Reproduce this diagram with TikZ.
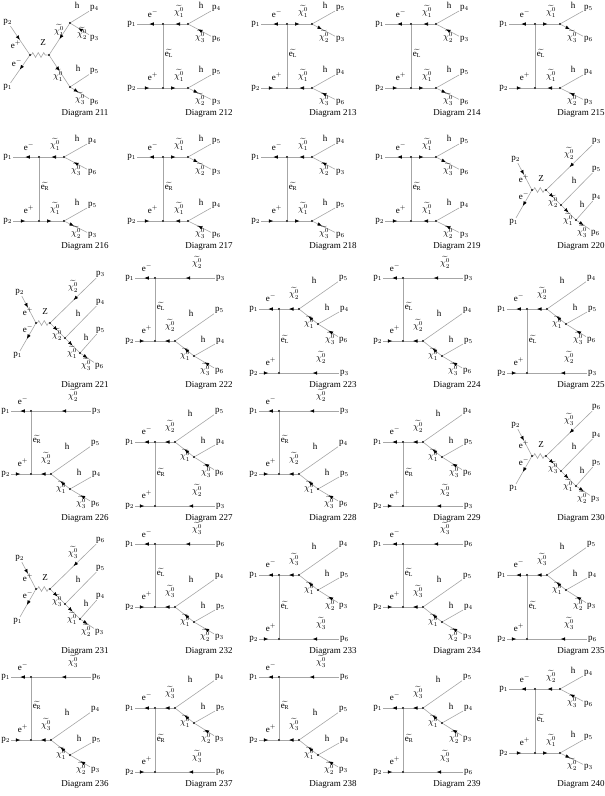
\documentclass[tikz,border=0pt]{standalone}
\usepackage{fontspec}
\setmainfont{Liberation Serif}
\usetikzlibrary{arrows.meta,decorations.markings,decorations.pathmorphing}
\tikzset{fline/.style={draw=gray!70, line width=0.6pt},
  fer/.style={fline, postaction={decorate}, decoration={markings, mark=at position #1 with {\arrow{Latex[length=4.5pt,width=3.6pt,color=black]}}}},
  fer/.default=0.5,
  zig it/.style={fline, decorate, decoration={zigzag, segment length=5.5pt, amplitude=2.4pt}},
  vtx/.style={circle, fill=black, inner sep=0pt, minimum size=2.4pt},
  lab/.style={inner sep=0pt, font=\fontsize{9}{10}\selectfont},
  ext/.style={inner sep=0.8pt, font=\fontsize{9}{10}\selectfont},
  captext/.style={inner sep=0pt, font=\fontsize{9}{11}\selectfont}}
\newcommand{\nt}[1]{$\widetilde{\chi_{#1}^{0}}$}
\newcommand{\sel}[1]{$\widetilde{\mathrm{e}_{\mathrm{#1}}}$}
\newcommand{\pp}[1]{p$_{#1}$}
\newcommand{\ee}[1]{e$^{#1}$}
\newcommand{\outp}[1]{\ifnum#1=2 3\else 6\fi}
\newcommand{\capy}{113}
\newcommand{\diagB}[8]{%
  \node[vtx] (vt#1) at (42,24) {};
  \node[vtx] (vb#1) at (42,88) {};
  \node[vtx] (dt#1) at (67,24) {};
  \node[vtx] (db#1) at (67,88) {};
  \node[ext,anchor=east] (pa#1) at (16,24) {\pp1};
  \node[ext,anchor=east] (pb#1) at (16,88) {\pp2};
  \node[ext,anchor=west] (ht#1) at (90,8) {\pp{#4}};
  \node[ext,anchor=west] (ct#1) at (90,39) {\pp{\outp{#5}}};
  \node[ext,anchor=west] (hb#1) at (90,72) {\pp{#6}};
  \node[ext,anchor=west] (cb#1) at (90,102) {\pp{\outp{#7}}};
  \draw[fer] (vt#1) -- (pa#1);
  \draw[fer] (pb#1) -- (vb#1);
  \draw[fline] (vt#1) -- (vb#1);
  \draw[fline] (dt#1) -- (ht#1);
  \draw[fline] (db#1) -- (hb#1);
  \ifnum#8=0
    \draw[fer] (dt#1) -- (vt#1);
    \draw[fer=.6] (ct#1) -- (dt#1);
    \draw[fer] (vb#1) -- (db#1);
    \draw[fer=.4] (db#1) -- (cb#1);
  \else
    \draw[fer] (vt#1) -- (dt#1);
    \draw[fer=.4] (dt#1) -- (ct#1);
    \draw[fer] (db#1) -- (vb#1);
    \draw[fer=.6] (cb#1) -- (db#1);
  \fi
  \node[lab] (em#1) at (32,14) {\ee-};
  \node[lab] (xt#1) at (58,11) {\nt{#3}};
  \node[lab] (lht#1) at (80,5) {h};
  \node[lab] (lct#1) at (79,36) {\nt{#5}};
  \node[lab] (se#1) at (48,53) {\sel{#2}};
  \node[lab] (ep#1) at (32,77) {\ee+};
  \node[lab] (xb#1) at (58,75) {\nt1};
  \node[lab] (lhb#1) at (80,69) {h};
  \node[lab] (lcb#1) at (79,99) {\nt{#7}};
  \node[captext] (cap#1) at (88,\capy) {Diagram #1};
}
\newcommand{\diagC}[5]{%
  \node[vtx] (va#1) at (39,57) {};
  \node[vtx] (vz#1) at (53,57) {};
  \node[vtx] (ca#1) at (68,72) {};
  \node[vtx] (cb#1) at (83,87) {};
  \node[ext,anchor=east] (pb#1) at (28,26) {\pp2};
  \node[ext,anchor=east] (pa#1) at (26,89) {\pp1};
  \node[ext,anchor=west] (ps#1) at (98,8) {\pp{\outp{#2}}};
  \node[ext,anchor=west] (ha#1) at (98,36) {\pp{#3}};
  \node[ext,anchor=west] (hb#1) at (98,64) {\pp{#4}};
  \node[ext,anchor=west] (pf#1) at (97,100) {\pp{\outp{#5}}};
  \draw[fer=.45] (pb#1) -- (va#1);
  \draw[fer=.55] (va#1) -- (pa#1);
  \draw[zig it] (va#1) -- (vz#1);
  \draw[fer] (ps#1) -- (vz#1);
  \draw[fer] (vz#1) -- (ca#1);
  \draw[fline] (ca#1) -- (ha#1);
  \draw[fer] (ca#1) -- (cb#1);
  \draw[fline] (cb#1) -- (hb#1);
  \draw[fer] (cb#1) -- (pf#1);
  \node[lab] (ep#1) at (31,46) {\ee+};
  \node[lab] (em#1) at (31,63) {\ee-};
  \node[lab] (lz#1) at (48,46) {Z};
  \node[lab] (xs#1) at (76,20) {\nt{#2}};
  \node[lab] (xa#1) at (60,68) {\nt{#2}};
  \node[lab] (lha#1) at (81,47) {h};
  \node[lab] (xb#1) at (75,86) {\nt1};
  \node[lab] (lhb#1) at (89,71) {h};
  \node[lab] (xf#1) at (89,98) {\nt{#5}};
  \node[captext] (cap#1) at (88,\capy) {Diagram #1};
}
\newcommand{\diagD}[6]{%
  \node[vtx] (vt#1) at (34,12) {};
  \node[vtx] (vb#1) at (34,75) {};
  \node[vtx] (ca#1) at (54,75) {};
  \node[vtx] (cb#1) at (73,90) {};
  \node[ext,anchor=east] (pa#1) at (14,12) {\pp1};
  \node[ext,anchor=east] (pb#1) at (14,75) {\pp2};
  \node[ext,anchor=west] (ps#1) at (94,12) {\pp{\outp{#3}}};
  \node[ext,anchor=west] (ha#1) at (93,44) {\pp{#4}};
  \node[ext,anchor=west] (hb#1) at (94,75) {\pp{#5}};
  \node[ext,anchor=west] (pf#1) at (93,105) {\pp{\outp{#6}}};
  \draw[fer] (vt#1) -- (pa#1);
  \draw[fer] (ps#1) -- (vt#1);
  \draw[fline] (vt#1) -- (vb#1);
  \draw[fer] (pb#1) -- (vb#1);
  \draw[fer] (ca#1) -- (vb#1);
  \draw[fline] (ca#1) -- (ha#1);
  \draw[fer] (cb#1) -- (ca#1);
  \draw[fline] (cb#1) -- (hb#1);
  \draw[fer] (pf#1) -- (cb#1);
  \node[lab] (em#1) at (26,2) {\ee-};
  \node[lab] (xs#1) at (76,-4) {\nt{#3}};
  \node[lab] (se#1) at (40,40) {\sel{#2}};
  \node[lab] (ep#1) at (26,64) {\ee+};
  \node[lab] (xa#1) at (49,59) {\nt{#3}};
  \node[lab] (lha#1) at (70,47) {h};
  \node[lab] (xb#1) at (64,88) {\nt1};
  \node[lab] (lhb#1) at (82,73) {h};
  \node[lab] (xf#1) at (84,103) {\nt{#6}};
  \node[captext] (cap#1) at (88,\capy) {Diagram #1};
}
\newcommand{\diagE}[6]{%
  \node[vtx] (vt#1) at (34,43) {};
  \node[vtx] (vb#1) at (34,107) {};
  \node[vtx] (ca#1) at (54,43) {};
  \node[vtx] (cb#1) at (73,58) {};
  \node[ext,anchor=east] (pa#1) at (14,43) {\pp1};
  \node[ext,anchor=east] (pb#1) at (14,107) {\pp2};
  \node[ext,anchor=west] (ps#1) at (94,107) {\pp{\outp{#3}}};
  \node[ext,anchor=west] (ha#1) at (93,12) {\pp{#4}};
  \node[ext,anchor=west] (hb#1) at (94,43) {\pp{#5}};
  \node[ext,anchor=west] (pf#1) at (93,74) {\pp{\outp{#6}}};
  \draw[fer] (vt#1) -- (pa#1);
  \draw[fer] (ca#1) -- (vt#1);
  \draw[fline] (vt#1) -- (vb#1);
  \draw[fer] (pb#1) -- (vb#1);
  \draw[fer=.45] (ps#1) -- (vb#1);
  \draw[fline] (ca#1) -- (ha#1);
  \draw[fer] (cb#1) -- (ca#1);
  \draw[fline] (cb#1) -- (hb#1);
  \draw[fer] (pf#1) -- (cb#1);
  \node[lab] (em#1) at (26,32) {\ee-};
  \node[lab] (xa#1) at (49,27) {\nt{#3}};
  \node[lab] (lha#1) at (69,14) {h};
  \node[lab] (xb#1) at (64,56) {\nt1};
  \node[lab] (lhb#1) at (82,41) {h};
  \node[lab] (xf#1) at (85,72) {\nt{#6}};
  \node[lab] (se#1) at (40,73) {\sel{#2}};
  \node[lab] (ep#1) at (26,96) {\ee+};
  \node[lab] (xs#1) at (76,91) {\nt{#3}};
  \node[captext] (cap#1) at (88,\capy) {Diagram #1};
}
\begin{document}
\begin{tikzpicture}[x=1pt,y=-1pt]
\useasboundingbox (0,0) rectangle (605,796);
\begin{scope}[shift={(-3,0)}]
  \node[vtx] (va211) at (33,55) {};
  \node[vtx] (vz211) at (52,55) {};
  \node[vtx] (dt211) at (73,23) {};
  \node[vtx] (db211) at (73,87) {};
  \node[ext,anchor=east] (pb211) at (16,22) {\pp2};
  \node[ext,anchor=east] (pa211) at (16,87) {\pp1};
  \node[ext,anchor=west] (ht211) at (92,8) {\pp4};
  \node[ext,anchor=west] (ct211) at (92,38) {\pp3};
  \node[ext,anchor=west] (hb211) at (92,71) {\pp5};
  \node[ext,anchor=west] (cb211) at (92,102) {\pp6};
  \draw[fer] (pb211) -- (va211);
  \draw[fer] (va211) -- (pa211);
  \draw[zig it] (va211) -- (vz211);
  \draw[fer] (dt211) -- (vz211);
  \draw[fer] (vz211) -- (db211);
  \draw[fline] (dt211) -- (ht211);
  \draw[fer=.6] (ct211) -- (dt211);
  \draw[fline] (db211) -- (hb211);
  \draw[fer=.4] (db211) -- (cb211);
  \node[lab] (ep211) at (19,45) {\ee+};
  \node[lab] (em211) at (20,63) {\ee-};
  \node[lab] (lz211) at (46,43) {Z};
  \node[lab] (xt211) at (62,30) {\nt1};
  \node[lab] (xb211) at (61,75) {\nt1};
  \node[lab] (lht211) at (80,5) {h};
  \node[lab] (lhb211) at (81,68) {h};
  \node[lab] (lct211) at (85,33) {\nt2};
  \node[lab] (lcb211) at (83,98) {\nt3};
  \node[captext] (cap211) at (88,\capy) {Diagram 211};
\end{scope}
\begin{scope}[shift={(121,0)}]\diagB{212}{L}{1}{4}{3}{5}{2}{0}\end{scope}
\begin{scope}[shift={(245,0)}]\diagB{213}{L}{1}{5}{2}{4}{3}{1}\end{scope}
\begin{scope}[shift={(369,0)}]\diagB{214}{L}{1}{4}{2}{5}{3}{0}\end{scope}
\begin{scope}[shift={(493,0)}]\diagB{215}{L}{1}{5}{3}{4}{2}{1}\end{scope}
\begin{scope}[shift={(-3,133)}]\diagB{216}{R}{1}{4}{3}{5}{2}{0}\end{scope}
\begin{scope}[shift={(121,133)}]\diagB{217}{R}{1}{5}{2}{4}{3}{1}\end{scope}
\begin{scope}[shift={(245,133)}]\diagB{218}{R}{1}{4}{2}{5}{3}{0}\end{scope}
\begin{scope}[shift={(369,133)}]\diagB{219}{R}{1}{5}{3}{4}{2}{1}\end{scope}
\begin{scope}[shift={(493,133)}]\diagC{220}{2}{5}{4}{3}\end{scope}
\renewcommand{\capy}{119}
\begin{scope}[shift={(-3,266)}]\diagC{221}{2}{4}{5}{3}\end{scope}
\begin{scope}[shift={(121,266)}]\diagD{222}{L}{2}{5}{4}{3}\end{scope}
\begin{scope}[shift={(245,266)}]\diagE{223}{L}{2}{5}{4}{3}\end{scope}
\begin{scope}[shift={(369,266)}]\diagD{224}{L}{2}{4}{5}{3}\end{scope}
\begin{scope}[shift={(493,266)}]\diagE{225}{L}{2}{4}{5}{3}\end{scope}
\begin{scope}[shift={(-3,399)}]\diagD{226}{R}{2}{5}{4}{3}\end{scope}
\begin{scope}[shift={(121,399)}]\diagE{227}{R}{2}{5}{4}{3}\end{scope}
\begin{scope}[shift={(245,399)}]\diagD{228}{R}{2}{4}{5}{3}\end{scope}
\begin{scope}[shift={(369,399)}]\diagE{229}{R}{2}{4}{5}{3}\end{scope}
\begin{scope}[shift={(493,399)}]\diagC{230}{3}{4}{5}{2}\end{scope}
\begin{scope}[shift={(-3,532)}]\diagC{231}{3}{5}{4}{2}\end{scope}
\begin{scope}[shift={(121,532)}]\diagD{232}{L}{3}{4}{5}{2}\end{scope}
\begin{scope}[shift={(245,532)}]\diagE{233}{L}{3}{4}{5}{2}\end{scope}
\begin{scope}[shift={(369,532)}]\diagD{234}{L}{3}{5}{4}{2}\end{scope}
\begin{scope}[shift={(493,532)}]\diagE{235}{L}{3}{5}{4}{2}\end{scope}
\begin{scope}[shift={(-3,665)}]\diagD{236}{R}{3}{4}{5}{2}\end{scope}
\begin{scope}[shift={(121,665)}]\diagE{237}{R}{3}{4}{5}{2}\end{scope}
\begin{scope}[shift={(245,665)}]\diagD{238}{R}{3}{5}{4}{2}\end{scope}
\begin{scope}[shift={(369,665)}]\diagE{239}{R}{3}{5}{4}{2}\end{scope}
\begin{scope}[shift={(493,665)}]\diagB{240}{L}{2}{4}{3}{5}{2}{0}\end{scope}
\end{tikzpicture}
\end{document}
